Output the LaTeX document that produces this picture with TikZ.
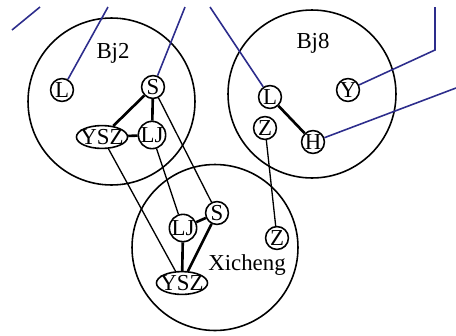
\documentclass[tikz,border=0pt]{standalone}
\usepackage{fontspec}
\setmainfont{Liberation Serif}
\usetikzlibrary{shapes.geometric}
\definecolor{navy}{RGB}{45,45,140}
\begin{document}
\begin{tikzpicture}[x=0.02cm,y=-0.02cm,font=\fontsize{13}{15}\selectfont]
\tikzstyle{region}=[draw,shape=circle,line width=0.9pt,inner sep=0pt]
\tikzstyle{dot}=[draw,shape=circle,line width=0.9pt,inner sep=0pt,minimum size=13pt]
\tikzstyle{oval}=[draw,shape=ellipse,line width=0.9pt,inner xsep=-2pt,inner ysep=0pt,minimum height=13pt]
\tikzstyle{strong}=[line width=1.5pt]
\tikzstyle{weak}=[line width=0.75pt]
\tikzstyle{link}=[navy,line width=0.9pt]
\useasboundingbox (0,0) rectangle (456,335);

\node[region,minimum size=3.34cm] at (111.5,101.5) (bj2) {};
\node[region,minimum size=3.36cm] at (312,94) (bj8) {};
\node[region,minimum size=3.32cm] at (215,247.5) (xc) {};

\node at (113,53) (t2) {Bj2};
\node at (313,43) (t8) {Bj8};
\node at (247,265) (tx) {Xicheng};

\node[dot] at (62,90) (bL) {L};
\node[dot] at (153,87) (bS) {S};
\node[oval] at (102,137) (bY) {YSZ};
\node[dot] at (152,135) (bLJ) {LJ};

\node[dot] at (270,97) (eL) {L};
\node[dot] at (348,90) (eY) {Y};
\node[dot] at (265,128) (eZ) {Z};
\node[dot] at (313,142) (eH) {H};

\node[dot] at (217,213) (xS) {S};
\node[dot] at (183,228) (xLJ) {LJ};
\node[oval] at (182,283) (xY) {YSZ};
\node[dot] at (277,238) (xZ) {Z};

\coordinate (f1) at (12,30);
\coordinate (f2) at (40,7);
\coordinate (u1) at (108,7);
\coordinate (u2) at (185,7);
\coordinate (u3) at (210,7);
\coordinate (k1) at (435,50);
\coordinate (u4) at (435,7);
\coordinate (u5) at (456,88);

\draw[strong] (bS) -- (bY);
\draw[strong] (bS) -- (bLJ);
\draw[strong] (bY) -- (bLJ);
\draw[strong] (eL) -- (eH);
\draw[strong] (xLJ) -- (xS);
\draw[strong] (xLJ) -- (xY);
\draw[strong] (xS) -- (xY);

\draw[weak] (bY) -- (xY);
\draw[weak] (bLJ) -- (xLJ);
\draw[weak] (bS) -- (xS);
\draw[weak] (eZ) -- (xZ);

\draw[link] (f1) -- (f2);
\draw[link] (bL) -- (u1);
\draw[link] (bS) -- (u2);
\draw[link] (eL) -- (u3);
\draw[link] (eY) -- (k1) -- (u4);
\draw[link] (eH) -- (u5);
\end{tikzpicture}
\end{document}
